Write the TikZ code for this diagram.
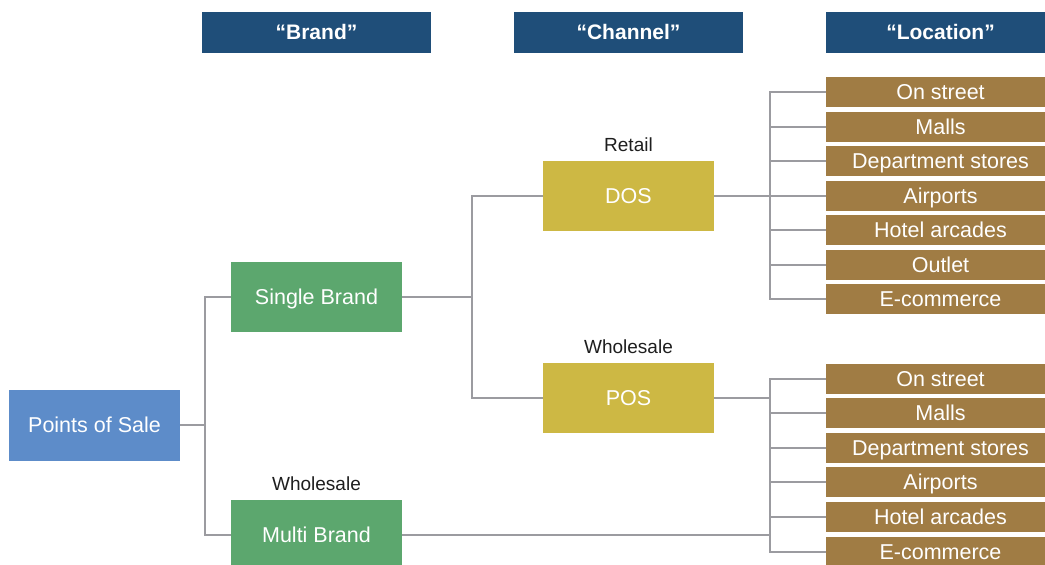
\documentclass[tikz,border=0pt]{standalone}
\usepackage{fontspec}
\setmainfont{Liberation Sans}
\definecolor{hdrblue}{RGB}{31,78,121}
\definecolor{rootblue}{RGB}{93,140,201}
\definecolor{brandgreen}{RGB}{92,167,110}
\definecolor{chanyellow}{RGB}{205,184,68}
\definecolor{locbrown}{RGB}{160,124,68}
\definecolor{connGray}{RGB}{155,155,160}
\definecolor{labtext}{RGB}{30,30,30}
\begin{document}
\begin{tikzpicture}[x=1pt,y=1pt,
  box/.style={draw=none, text=white, inner sep=0pt, align=center,
    text height=15.4, text depth=0.6,
    font=\fontsize{21.5}{24}\selectfont},
  hdr/.style={box, fill=hdrblue, minimum width=229, minimum height=41,
    font=\fontsize{21}{24}\selectfont\bfseries},
  bigbox/.style={box, minimum width=171, minimum height=70},
  locbox/.style={box, fill=locbrown, minimum width=229, minimum height=30},
  lab/.style={text=labtext, inner sep=0pt, font=\fontsize{19}{22}\selectfont},
  conn/.style={draw=connGray, line width=1.6pt}]
\useasboundingbox (0,0) rectangle (1045,-565);

% headers
\node[hdr] (hbrand) at (316.5,-32.5) {“Brand”};
\node[hdr] (hchan) at (628.5,-32.5) {“Channel”};
\node[hdr] (hloc) at (940.5,-32.5) {“Location”};

% main boxes
\node[bigbox, fill=rootblue, minimum height=71] (pos) at (94.5,-425) {Points of Sale};
\node[bigbox, fill=brandgreen] (single) at (316.5,-297) {Single Brand};
\node[bigbox, fill=brandgreen] (multi) at (316.5,-535) {Multi Brand};
\node[bigbox, fill=chanyellow] (dos) at (628.5,-196) {DOS};
\node[bigbox, fill=chanyellow] (posb) at (628.5,-398) {POS};

% labels
\node[lab] (lretail) at (628.5,-145) {Retail};
\node[lab] (lwhole1) at (628.5,-347) {Wholesale};
\node[lab] (lwhole2) at (316.5,-484) {Wholesale};

% location boxes, top group
\foreach \t/\y [count=\i from 0] in {On street/92,Malls/127,Department stores/161,Airports/196,Hotel arcades/230,Outlet/265,E-commerce/299}{
  \node[locbox] (ta\i) at (940.5,-\y) {\t};
}
% location boxes, bottom group
\foreach \t/\y [count=\i from 0] in {On street/379,Malls/413,Department stores/448,Airports/482,Hotel arcades/517,E-commerce/552}{
  \node[locbox] (bb\i) at (940.5,-\y) {\t};
}

% junctions
\coordinate (j1) at (205,-425);
\coordinate (j2) at (472,-297);
\coordinate (j3) at (770,-196);
\coordinate (j4) at (770,-398);

% connectors
\draw[conn] (pos.east) -- (j1);
\draw[conn] (single.west) -| (j1) |- (multi.west);
\draw[conn] (single.east) -- (j2);
\draw[conn] (dos.west) -| (j2) |- (posb.west);
\draw[conn] (dos.east) -- (j3);
\foreach \i in {0,...,6}{ \draw[conn] (j3) |- (ta\i.west); }
\draw[conn] (posb.east) -- (j4);
\draw[conn] (multi.east) -| (j4);
\foreach \i in {0,...,5}{ \draw[conn] (j4) |- (bb\i.west); }
\end{tikzpicture}
\end{document}
